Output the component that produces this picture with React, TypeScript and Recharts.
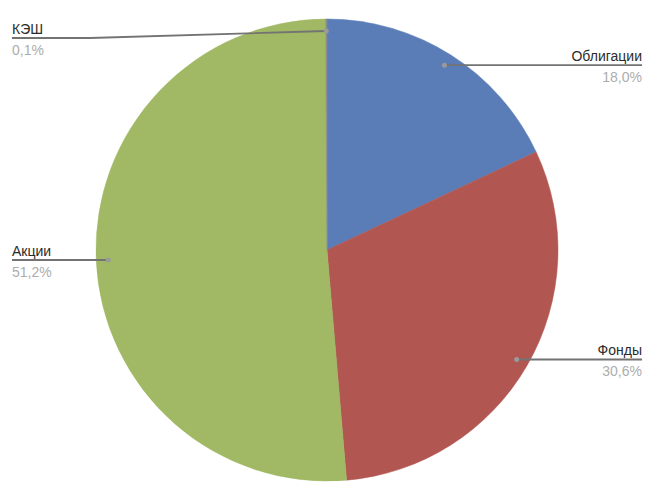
import React from 'react';
import { PieChart, Pie, Cell } from 'recharts';

const categories = ['Облигации', 'Фонды', 'Акции', 'КЭШ'];
const shares = [18.0, 30.6, 51.2, 0.1];
const colors = ['#5A7DB7', '#B15651', '#A1B964', '#8C8C8C'];

const data = categories.map((name, i) => ({ name, value: shares[i] }));

const RADIAN = Math.PI / 180;
const LEFT_X = 12;
const RIGHT_X = 642;

const fmt = (v: number) => v.toFixed(1).replace('.', ',') + '%';

const renderLabel = (props: any) => {
  const { cx, cy, midAngle, outerRadius, index } = props;
  const r = outerRadius * 0.948;
  const dx = Math.cos(-midAngle * RADIAN);
  const dy = Math.sin(-midAngle * RADIAN);
  const px = cx + r * dx;
  const py = cy + r * dy;
  const left = dx < 0;
  const ly = Math.max(py, 38);
  const elbowX = left ? 90 : 565;
  const endX = left ? LEFT_X : RIGHT_X;
  const pts = ly !== py ? `${px},${py} ${elbowX},${ly} ${endX},${ly}` : `${px},${py} ${endX},${ly}`;
  const anchor = left ? 'start' : 'end';
  return (
    <g key={`lbl-${index}`}>
      <polyline points={pts} fill="none" stroke="#737373" strokeWidth={1.8} />
      <circle cx={px} cy={py} r={2.5} fill="#9A9A9A" />
      <text x={endX} y={ly - 4} textAnchor={anchor} fontSize={14} fill="#2b2b2b" fontFamily="'Liberation Sans', Arial, sans-serif">
        {data[index].name}
      </text>
      <text x={endX} y={ly + 17} textAnchor={anchor} fontSize={14} fill="#ADADAD" fontFamily="'Liberation Sans', Arial, sans-serif">
        {fmt(data[index].value)}
      </text>
    </g>
  );
};

export default function App() {
  return (
    <div style={{ position: 'absolute', left: 0, top: 0, width: 667, height: 498, background: '#fff' }}>
      <PieChart width={667} height={498} margin={{ top: 0, right: 0, bottom: 0, left: 0 }}>
        <Pie
          data={data}
          dataKey="value"
          nameKey="name"
          cx={327}
          cy={250}
          outerRadius={231}
          startAngle={90}
          endAngle={-270}
          label={renderLabel}
          labelLine={false}
          isAnimationActive={false}
        >
          {data.map((d, i) => (
            <Cell key={d.name} fill={colors[i]} stroke={colors[i]} strokeWidth={0.5} />
          ))}
        </Pie>
      </PieChart>
    </div>
  );
}
